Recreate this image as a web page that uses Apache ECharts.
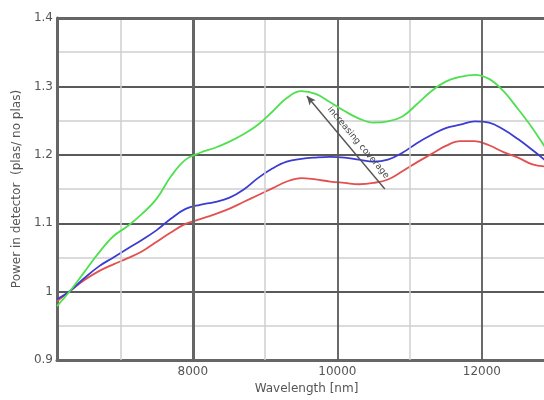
<!DOCTYPE html>
<html>
<head>
<meta charset="utf-8">
<script src="https://cdn.jsdelivr.net/npm/echarts@6/dist/echarts.min.js"></script>
<style>
  html, body { margin: 0; padding: 0; background: #fff; }
  #chart { width: 544px; height: 400px; }
</style>
</head>
<body>
<div id="chart"></div>
<script>
// Wavelength samples (nm)
const wavelengths = [6120, 6300, 6500, 6700, 6900, 7100, 7300, 7500, 7700, 7900,
  8100, 8300, 8500, 8700, 8900, 9100, 9300, 9500, 9700, 9900,
  10100, 10300, 10500, 10700, 10900, 11100, 11300, 11500, 11700, 11900,
  12100, 12300, 12500, 12700, 12900];

// Detector power ratio (plasmonic / no plasmonic) for three coverages
const greenValues = [0.979, 1.001, 1.029, 1.057, 1.081, 1.096, 1.114, 1.136, 1.169, 1.193,
  1.203, 1.210, 1.219, 1.230, 1.244, 1.263, 1.283, 1.293, 1.289, 1.277,
  1.264, 1.253, 1.247, 1.249, 1.256, 1.274, 1.293, 1.307, 1.314, 1.317,
  1.311, 1.293, 1.267, 1.239, 1.207];

const blueValues = [0.989, 1.001, 1.020, 1.037, 1.050, 1.063, 1.076, 1.090, 1.107, 1.121,
  1.127, 1.131, 1.137, 1.149, 1.166, 1.180, 1.190, 1.194, 1.196, 1.197,
  1.196, 1.193, 1.190, 1.193, 1.203, 1.217, 1.229, 1.239, 1.244, 1.249,
  1.247, 1.237, 1.223, 1.207, 1.190];

const redValues = [0.986, 1.001, 1.017, 1.030, 1.040, 1.049, 1.059, 1.073, 1.087, 1.099,
  1.106, 1.113, 1.121, 1.131, 1.141, 1.151, 1.161, 1.166, 1.164, 1.161,
  1.159, 1.157, 1.159, 1.164, 1.176, 1.189, 1.201, 1.213, 1.220, 1.220,
  1.214, 1.204, 1.196, 1.186, 1.183];

// Axis tick labels and grid positions
const xTickLabels = [8000, 10000, 12000];
const xMinorGrid = [7000, 9000, 11000];
const annotationText = 'increasing coverage';

const pairs = vals => wavelengths.map((w, i) => [w, vals[i]]);

const FONT = 'DejaVu Sans';
const majorDark = '#5a5a5a';
const minorLight = '#cfcfcf';

const vLines = [
  ...xMinorGrid.map(v => ({ xAxis: v, lineStyle: { color: minorLight, width: 1.5, type: 'solid' } })),
  { xAxis: 8000, lineStyle: { color: '#666', width: 3, type: 'solid' } },
  { xAxis: 10000, lineStyle: { color: majorDark, width: 1.8, type: 'solid' } },
  { xAxis: 12000, lineStyle: { color: majorDark, width: 1.8, type: 'solid' } },
  { yAxis: 1.4, lineStyle: { color: '#666', width: 3, type: 'solid' } }
];

const chart = echarts.init(document.getElementById('chart'), null, { renderer: 'canvas' });

chart.setOption({
  backgroundColor: '#fff',
  animation: false,
  grid: { left: 57, top: 18, right: 0, bottom: 32 },
  xAxis: {
    type: 'value',
    min: 6120,
    max: 12860,
    name: 'Wavelength [nm]',
    nameLocation: 'middle',
    nameGap: 20,
    nameTextStyle: { fontFamily: FONT, fontSize: 12, color: '#555', padding: [0, 0, 0, 12] },
    axisLine: { show: true, lineStyle: { color: '#666', width: 3 } },
    axisTick: { show: false },
    splitLine: { show: false },
    axisLabel: {
      customValues: xTickLabels,
      formatter: v => String(v),
      fontFamily: FONT, fontSize: 12, color: '#555', margin: 6
    }
  },
  yAxis: {
    type: 'value',
    min: 0.9,
    max: 1.4,
    interval: 0.1,
    name: 'Power in detector  (plas/ no plas)',
    nameLocation: 'middle',
    nameGap: 32,
    nameTextStyle: { fontFamily: FONT, fontSize: 12, color: '#555' },
    axisLine: { show: true, lineStyle: { color: '#666', width: 3 } },
    axisTick: { show: false },
    axisLabel: { fontFamily: FONT, fontSize: 12, color: '#555', margin: 4 },
    splitLine: { show: true, lineStyle: { color: majorDark, width: 1.8 } },
    minorTick: { show: false, splitNumber: 2 },
    minorSplitLine: { show: true, lineStyle: { color: minorLight, width: 1.5 } }
  },
  series: [
    {
      name: 'grid',
      type: 'line',
      data: [],
      silent: true,
      z: 1,
      markLine: {
        silent: true,
        symbol: ['none', 'none'],
        label: { show: false },
        animation: false,
        data: vLines
      }
    },
    {
      name: 'low',
      type: 'line',
      data: pairs(redValues),
      smooth: 0.4,
      showSymbol: false,
      z: 3,
      lineStyle: { color: '#e2504f', width: 1.8 }
    },
    {
      name: 'mid',
      type: 'line',
      data: pairs(blueValues),
      smooth: 0.4,
      showSymbol: false,
      z: 4,
      lineStyle: { color: '#3c3cd2', width: 1.8 }
    },
    {
      name: 'high',
      type: 'line',
      data: pairs(greenValues),
      smooth: 0.4,
      showSymbol: false,
      z: 5,
      lineStyle: { color: '#4fe04f', width: 1.8 },
      markLine: {
        silent: true,
        animation: false,
        lineStyle: { color: '#555', width: 1.4, type: 'solid' },
        data: [
          // arrow
          [
            { coord: [10657, 1.150], symbol: 'none', label: { show: false } },
            { coord: [9578, 1.286], symbol: 'arrow', symbolSize: [6, 9] }
          ],
          // caption running along the arrow
          [
            {
              coord: [10657, 1.150],
              symbol: 'none',
              lineStyle: { color: 'rgba(0,0,0,0)', width: 0 },
              label: {
                show: true,
                position: 'middle',
                formatter: annotationText,
                fontFamily: FONT,
                fontSize: 9,
                color: '#444',
                distance: 5
              }
            },
            { coord: [9720, 1.268], symbol: 'none' }
          ]
        ]
      }
    }
  ]
});
</script>
</body>
</html>
